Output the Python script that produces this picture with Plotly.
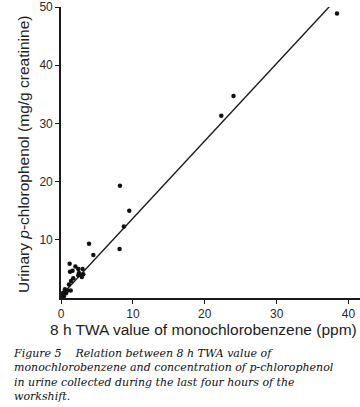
import plotly.graph_objects as go

# Data
twa_ppm = [38.4, 24.0, 22.3, 8.2, 9.5, 8.75, 8.15, 3.9, 4.5,
           1.2, 2.0, 2.4, 1.25, 3.0, 3.1, 2.5, 2.4, 1.7, 1.4, 1.1,
           0.55, 0.9, 1.35, 0.3, 0.1, 0.4, 0.7, 1.6, 2.9]
chlorophenol = [48.9, 34.7, 31.3, 19.3, 15.0, 12.3, 8.4, 9.3, 7.4,
                5.9, 5.4, 5.0, 4.5, 5.0, 4.1, 4.3, 3.9, 3.4, 2.9, 2.3,
                1.5, 1.3, 1.3, 0.9, 0.4, 0.3, 0.8, 4.7, 3.6]
fit_slope = 1.33
fit_intercept = 0.4
fit_x_range = [0.0, 37.4]
x_ticks = [0, 10, 20, 30, 40]
y_ticks = [10, 20, 30, 40, 50]
caption_lines = [
    "Figure 5\u00a0\u00a0\u00a0\u00a0Relation between 8 h TWA value of",
    "monochlorobenzene and concentration of p-chlorophenol",
    "in urine collected during the last four hours of the",
    "workshift.",
]

W, H = 360, 407
L, R, T, B = 61, 0, 7, 109
plot_h = H - T - B
plot_w = W - L - R


def py(pix):
    return (H - B - pix) / plot_h


def px(pix):
    return (pix - L) / plot_w


fit_y = [fit_slope * v + fit_intercept for v in fit_x_range]

fig = go.Figure()
fig.add_trace(go.Scatter(x=fit_x_range, y=fit_y, mode="lines",
                         line=dict(color="#1a1a1a", width=1.4),
                         hoverinfo="skip", showlegend=False))
fig.add_trace(go.Scatter(x=twa_ppm, y=chlorophenol, mode="markers",
                         marker=dict(color="#111111", size=4.5),
                         cliponaxis=False, showlegend=False))

axis_common = dict(showgrid=False, zeroline=False, showline=True,
                   linecolor="#1a1a1a", linewidth=1.6, ticks="outside",
                   tickcolor="#1a1a1a", tickwidth=1.3, ticklen=4)
sans = "Liberation Sans, Arial, sans-serif"
fig.update_xaxes(range=[0, 41.6], tickvals=x_ticks,
                 tickfont=dict(family=sans, size=12, color="#2a2a2a"),
                 **axis_common)
fig.update_yaxes(range=[0, 50], tickvals=y_ticks,
                 tickfont=dict(family=sans, size=12, color="#2a2a2a"),
                 **axis_common)

fig.add_annotation(text="8 h TWA value of monochlorobenzene (ppm)",
                   xref="paper", yref="paper", x=px(203), y=py(329),
                   xanchor="center", yanchor="middle", showarrow=False,
                   font=dict(family=sans, size=15.5, color="#222222"))
fig.add_annotation(text="Urinary <i>p</i>-chlorophenol (mg/g creatinine)",
                   xref="paper", yref="paper", x=px(23), y=py(155),
                   xanchor="center", yanchor="middle", textangle=-90,
                   showarrow=False,
                   font=dict(family=sans, size=15.5, color="#222222"))

fig.add_annotation(text="<i>" + "<br>".join(caption_lines) + "</i>",
                   xref="paper", yref="paper", x=px(11), y=py(345),
                   xanchor="left", yanchor="top", align="left",
                   showarrow=False,
                   font=dict(family="DejaVu Serif, serif",
                             size=11, color="#111111"))

fig.update_layout(width=W, height=H, margin=dict(l=L, r=R, t=T, b=B),
                  paper_bgcolor="white", plot_bgcolor="white")

fig.write_html("out.html", config={"displayModeBar": False})
